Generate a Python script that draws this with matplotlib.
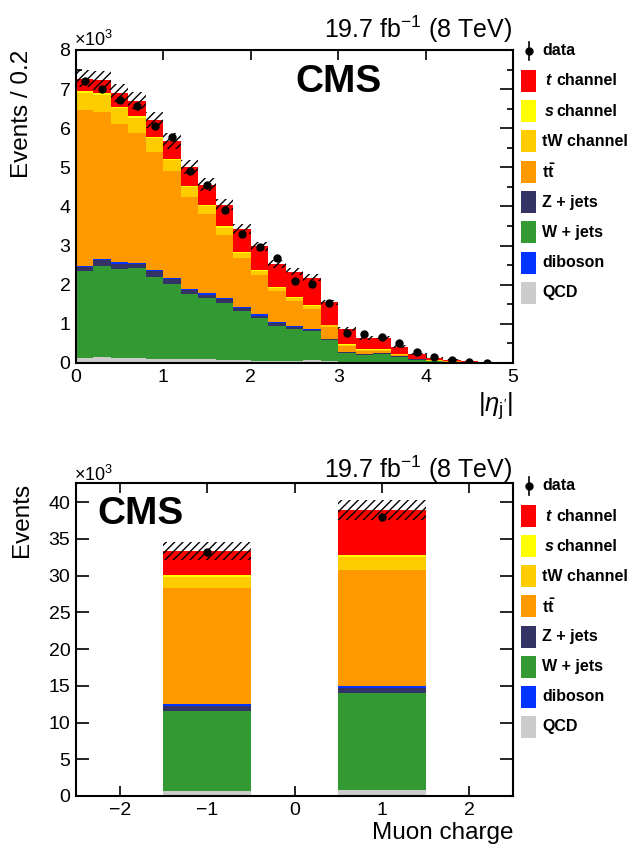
import numpy as np
import matplotlib
matplotlib.use("Agg")
import matplotlib.pyplot as plt
from matplotlib.patches import Rectangle
from matplotlib.lines import Line2D

plt.rcParams['font.family'] = ['Liberation Sans', 'DejaVu Sans']
plt.rcParams['mathtext.fontset'] = 'custom'
plt.rcParams['mathtext.rm'] = 'Liberation Sans'
plt.rcParams['mathtext.it'] = 'Liberation Sans:italic'
plt.rcParams['mathtext.bf'] = 'Liberation Sans:bold'
plt.rcParams['hatch.linewidth'] = 1.0

# ---------------- data: |eta_j'| distribution (units of 10^3 events / 0.2) ----------------
eta_edges = [0.0, 0.2, 0.4, 0.6, 0.8, 1.0, 1.2, 1.4, 1.6, 1.8, 2.0, 2.2, 2.4,
             2.6, 2.8, 3.0, 3.2, 3.4, 3.6, 3.8, 4.0, 4.2, 4.4, 4.6, 4.8, 5.0]
eta_qcd = [0.12, 0.16, 0.14, 0.12, 0.11, 0.10, 0.09, 0.09, 0.08, 0.07, 0.06, 0.05, 0.05,
           0.08, 0.04, 0.03, 0.02, 0.02, 0.02, 0.01, 0.01, 0.005, 0.003, 0.002, 0.001]
eta_wjets = [2.23, 2.32, 2.26, 2.30, 2.09, 1.92, 1.68, 1.57, 1.45, 1.25, 1.09, 0.90, 0.83,
             0.74, 0.55, 0.23, 0.19, 0.22, 0.13, 0.07, 0.03, 0.025, 0.012, 0.006, 0.003]
eta_zjets = [0.10, 0.14, 0.14, 0.12, 0.14, 0.12, 0.09, 0.09, 0.10, 0.08, 0.06, 0.07, 0.04,
             0.03, 0.02, 0.02, 0.01, 0.01, 0.02, 0.01, 0.005, 0.003, 0.002, 0.001, 0.001]
eta_diboson = [0.04, 0.05, 0.04, 0.02, 0.03, 0.03, 0.03, 0.03, 0.03, 0.03, 0.03, 0.03, 0.02,
               0.02, 0.01, 0.01, 0.01, 0.01, 0.01, 0.005, 0.005, 0.002, 0.001, 0.001, 0.0]
eta_ttbar = [3.97, 3.75, 3.54, 3.33, 3.03, 2.73, 2.36, 2.02, 1.60, 1.26, 1.01, 0.79, 0.65,
             0.51, 0.29, 0.14, 0.08, 0.05, 0.02, 0.005, 0.01, 0.005, 0.002, 0.002, 0.001]
eta_tw = [0.45, 0.42, 0.39, 0.38, 0.34, 0.28, 0.25, 0.21, 0.20, 0.12, 0.10, 0.08, 0.07,
          0.07, 0.05, 0.04, 0.03, 0.03, 0.025, 0.007, 0.007, 0.003, 0.003, 0.001, 0.0005]
eta_schan = [0.05, 0.05, 0.04, 0.04, 0.04, 0.03, 0.03, 0.03, 0.03, 0.02, 0.02, 0.02, 0.02,
             0.02, 0.01, 0.01, 0.01, 0.01, 0.005, 0.003, 0.003, 0.002, 0.002, 0.001, 0.0005]
eta_tchan = [0.31, 0.34, 0.35, 0.39, 0.43, 0.47, 0.49, 0.52, 0.56, 0.59, 0.61, 0.60, 0.65,
             0.71, 0.58, 0.38, 0.29, 0.30, 0.19, 0.12, 0.07, 0.04, 0.025, 0.011, 0.005]
eta_unc = [0.22, 0.24, 0.24, 0.22, 0.20, 0.20, 0.18, 0.17, 0.15, 0.13, 0.11, 0.10, 0.09,
           0.09, 0.07, 0.05, 0.04, 0.04, 0.03, 0.02, 0.01, 0.01, 0.005, 0.003, 0.002]
eta_data = [7.21, 7.00, 6.72, 6.56, 6.06, 5.78, 4.90, 4.56, 3.90, 3.30, 2.96, 2.69, 2.10,
            2.03, 1.54, 0.76, 0.73, 0.67, 0.52, 0.27, 0.15, 0.08, 0.03, 0.01, np.nan]

# ---------------- data: muon charge (units of 10^3 events) ----------------
charge_bins = [-1, 1]
ch_qcd = [0.68, 0.82]
ch_wjets = [10.88, 13.24]
ch_zjets = [0.73, 0.68]
ch_diboson = [0.23, 0.23]
ch_ttbar = [15.78, 15.78]
ch_tw = [1.54, 1.72]
ch_schan = [0.23, 0.32]
ch_tchan = [3.26, 6.12]
ch_unc = [1.2, 1.36]
ch_data = [33.15, 37.91]

colors = {'tchan': '#ff0000', 'schan': '#ffff00', 'tw': '#ffcc00', 'ttbar': '#ff9900',
          'zjets': '#333366', 'wjets': '#339933', 'diboson': '#0033ff', 'qcd': '#cccccc'}

W, H = 630, 850
fig = plt.figure(figsize=(W / 100, H / 100), dpi=100)


def fx(px):
    return px / W


def fy(py):
    return 1 - py / H


ax1 = fig.add_axes([fx(76), fy(363), fx(513) - fx(76), fy(50) - fy(363)])
ax2 = fig.add_axes([fx(76), fy(796), fx(513) - fx(76), fy(483) - fy(796)])

order = ['qcd', 'wjets', 'zjets', 'diboson', 'ttbar', 'tw', 'schan', 'tchan']

# ---------- top panel ----------
edges = np.array(eta_edges)
left = edges[:-1]
widths = np.diff(edges)
comps = {'qcd': eta_qcd, 'wjets': eta_wjets, 'zjets': eta_zjets, 'diboson': eta_diboson,
         'ttbar': eta_ttbar, 'tw': eta_tw, 'schan': eta_schan, 'tchan': eta_tchan}
bottom = np.zeros(len(left))
for key in order:
    v = np.array(comps[key])
    ax1.bar(left, v, width=widths, bottom=bottom, align='edge', color=colors[key],
            linewidth=0, zorder=2)
    bottom = bottom + v
total = bottom
unc = np.array(eta_unc)
ax1.bar(left, 2 * unc, width=widths, bottom=total - unc, align='edge', fill=False,
        hatch='////', edgecolor='black', linewidth=0, zorder=3)
centers = left + widths / 2
ax1.plot(centers, eta_data, 'o', color='black', ms=5, zorder=4)

ax1.set_xlim(0, 5)
ax1.set_ylim(0, 8)
ax1.set_xticks([0, 1, 2, 3, 4, 5])
ax1.set_yticks(range(0, 9))
ax1.set_yticks(np.arange(0.5, 8, 1.0), minor=True)

# ---------- bottom panel ----------
comps2 = {'qcd': ch_qcd, 'wjets': ch_wjets, 'zjets': ch_zjets, 'diboson': ch_diboson,
          'ttbar': ch_ttbar, 'tw': ch_tw, 'schan': ch_schan, 'tchan': ch_tchan}
bottom = np.zeros(2)
for key in order:
    v = np.array(comps2[key])
    ax2.bar(charge_bins, v, width=1.0, bottom=bottom, color=colors[key], linewidth=0, zorder=2)
    bottom = bottom + v
total2 = bottom
unc2 = np.array(ch_unc)
ax2.bar(charge_bins, 2 * unc2, width=1.0, bottom=total2 - unc2, fill=False, hatch='////',
        edgecolor='black', linewidth=0, zorder=3)
ax2.plot(charge_bins, ch_data, 'o', color='black', ms=5, zorder=4)
ax2.set_xlim(-2.5, 2.5)
ax2.set_ylim(0, 42.6)
ax2.set_xticks([-2, -1, 0, 1, 2])
ax2.set_xticklabels(['\u22122', '\u22121', '0', '1', '2'])
ax2.set_yticks(range(0, 45, 5))

for ax in (ax1, ax2):
    for s in ax.spines.values():
        s.set_linewidth(1.5)
        s.set_zorder(5)
    ax.tick_params(axis='both', which='both', direction='in', top=True, right=True,
                   labelsize=14, width=1.2, pad=4)
    ax.tick_params(axis='x', which='major', length=7)
    ax.tick_params(axis='y', which='major', length=9.5)
    ax.tick_params(axis='y', which='minor', length=4.5)
    ax.tick_params(axis='x', which='minor', length=0)

# ---------- texts ----------
fig.text(fx(512), fy(38), r'19.7 fb$^{-1}$ (8 TeV)', ha='right', va='baseline', fontsize=18)
fig.text(fx(512), fy(478), r'19.7 fb$^{-1}$ (8 TeV)', ha='right', va='baseline', fontsize=18)
fig.text(fx(74), fy(46), '\u00d710$^{3}$', ha='left', va='baseline', fontsize=13)
fig.text(fx(74), fy(481), '\u00d710$^{3}$', ha='left', va='baseline', fontsize=13)
fig.text(fx(295), fy(82), 'CMS', ha='left', va='center', fontsize=28, fontweight='bold')
fig.text(fx(97), fy(514), 'CMS', ha='left', va='center', fontsize=28, fontweight='bold')
fig.text(fx(22), fy(50), 'Events / 0.2', rotation=90, ha='center', va='top', fontsize=17.5)
fig.text(fx(22), fy(483), 'Events', rotation=90, ha='center', va='top', fontsize=17.5)
fig.text(fx(513), fy(390), r"$|\eta_{\mathrm{j'}}|$", ha='right', va='top', fontsize=18.5)
fig.text(fx(513), fy(822), 'Muon charge', ha='right', va='top', fontsize=17.5)

# ---------- legends ----------
leg_keys = ['data', 'tchan', 'schan', 'tw', 'ttbar', 'zjets', 'wjets', 'diboson', 'qcd']
leg_text = {'tw': 'tW channel', 'zjets': 'Z + jets', 'wjets': 'W + jets',
            'diboson': 'diboson', 'qcd': 'QCD', 'data': 'data'}


def draw_legend(y0, dy):
    for i, key in enumerate(leg_keys):
        y = y0 + i * dy
        if key == 'data':
            fig.add_artist(Line2D([fx(528.5), fx(528.5)], [fy(y - 9), fy(y + 9)],
                                  color='black', lw=1.2))
            fig.add_artist(Line2D([fx(528.5)], [fy(y)], marker='o', color='black', ms=5))
        else:
            fig.add_artist(Rectangle((fx(521), fy(y + 11)), fx(15), 22 / H,
                                     facecolor=colors[key], edgecolor='none'))
        tx = fx(542)
        if key in ('tchan', 'schan'):
            letter = 't' if key == 'tchan' else 's'
            fig.text(fx(545), fy(y), letter, ha='left', va='center', fontsize=11.5,
                     fontweight='bold', fontstyle='italic')
            fig.text(fx(556), fy(y), 'channel', ha='left', va='center', fontsize=11.5,
                     fontweight='bold')
        elif key == 'ttbar':
            fig.text(tx, fy(y), r'$\mathbf{t\bar{t}}$', ha='left', va='center', fontsize=11.5)
        else:
            fig.text(tx, fy(y), leg_text[key], ha='left', va='center', fontsize=11.5,
                     fontweight='bold')


draw_legend(50.5, 30.3)
draw_legend(486, 30.1)

fig.savefig('out.png', dpi=100)
